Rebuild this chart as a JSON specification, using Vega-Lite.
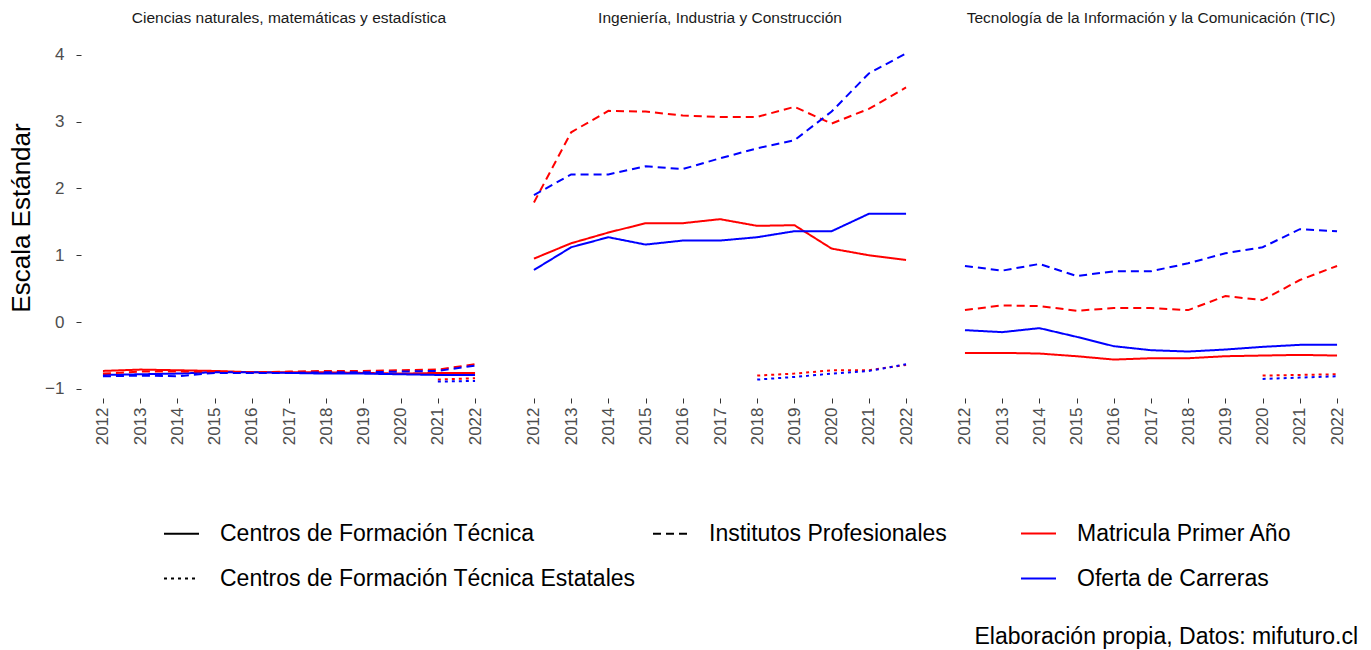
{
  "$schema": "https://vega.github.io/schema/vega-lite/v6.json",
  "background": "white",
  "padding": {"left": 8, "top": 11, "right": 13, "bottom": 5},
  "title": {"text": "Elaboración propia, Datos: mifuturo.cl", "orient": "bottom", "anchor": "end", "fontSize": 23, "fontWeight": "normal", "color": "black", "offset": 35, "dx": -1},
  "data": {"values": [
    {"area":"Ciencias naturales, matemáticas y estadística","tipo":"Centros de Formación Técnica","var":"Matricula Primer Año","year":2012,"value":-0.73},
    {"area":"Ciencias naturales, matemáticas y estadística","tipo":"Centros de Formación Técnica","var":"Matricula Primer Año","year":2013,"value":-0.71},
    {"area":"Ciencias naturales, matemáticas y estadística","tipo":"Centros de Formación Técnica","var":"Matricula Primer Año","year":2014,"value":-0.72},
    {"area":"Ciencias naturales, matemáticas y estadística","tipo":"Centros de Formación Técnica","var":"Matricula Primer Año","year":2015,"value":-0.73},
    {"area":"Ciencias naturales, matemáticas y estadística","tipo":"Centros de Formación Técnica","var":"Matricula Primer Año","year":2016,"value":-0.75},
    {"area":"Ciencias naturales, matemáticas y estadística","tipo":"Centros de Formación Técnica","var":"Matricula Primer Año","year":2017,"value":-0.75},
    {"area":"Ciencias naturales, matemáticas y estadística","tipo":"Centros de Formación Técnica","var":"Matricula Primer Año","year":2018,"value":-0.75},
    {"area":"Ciencias naturales, matemáticas y estadística","tipo":"Centros de Formación Técnica","var":"Matricula Primer Año","year":2019,"value":-0.76},
    {"area":"Ciencias naturales, matemáticas y estadística","tipo":"Centros de Formación Técnica","var":"Matricula Primer Año","year":2020,"value":-0.77},
    {"area":"Ciencias naturales, matemáticas y estadística","tipo":"Centros de Formación Técnica","var":"Matricula Primer Año","year":2021,"value":-0.76},
    {"area":"Ciencias naturales, matemáticas y estadística","tipo":"Centros de Formación Técnica","var":"Matricula Primer Año","year":2022,"value":-0.76},
    {"area":"Ciencias naturales, matemáticas y estadística","tipo":"Centros de Formación Técnica","var":"Oferta de Carreras","year":2012,"value":-0.79},
    {"area":"Ciencias naturales, matemáticas y estadística","tipo":"Centros de Formación Técnica","var":"Oferta de Carreras","year":2013,"value":-0.78},
    {"area":"Ciencias naturales, matemáticas y estadística","tipo":"Centros de Formación Técnica","var":"Oferta de Carreras","year":2014,"value":-0.77},
    {"area":"Ciencias naturales, matemáticas y estadística","tipo":"Centros de Formación Técnica","var":"Oferta de Carreras","year":2015,"value":-0.75},
    {"area":"Ciencias naturales, matemáticas y estadística","tipo":"Centros de Formación Técnica","var":"Oferta de Carreras","year":2016,"value":-0.75},
    {"area":"Ciencias naturales, matemáticas y estadística","tipo":"Centros de Formación Técnica","var":"Oferta de Carreras","year":2017,"value":-0.76},
    {"area":"Ciencias naturales, matemáticas y estadística","tipo":"Centros de Formación Técnica","var":"Oferta de Carreras","year":2018,"value":-0.77},
    {"area":"Ciencias naturales, matemáticas y estadística","tipo":"Centros de Formación Técnica","var":"Oferta de Carreras","year":2019,"value":-0.77},
    {"area":"Ciencias naturales, matemáticas y estadística","tipo":"Centros de Formación Técnica","var":"Oferta de Carreras","year":2020,"value":-0.78},
    {"area":"Ciencias naturales, matemáticas y estadística","tipo":"Centros de Formación Técnica","var":"Oferta de Carreras","year":2021,"value":-0.79},
    {"area":"Ciencias naturales, matemáticas y estadística","tipo":"Centros de Formación Técnica","var":"Oferta de Carreras","year":2022,"value":-0.79},
    {"area":"Ciencias naturales, matemáticas y estadística","tipo":"Institutos Profesionales","var":"Matricula Primer Año","year":2012,"value":-0.77},
    {"area":"Ciencias naturales, matemáticas y estadística","tipo":"Institutos Profesionales","var":"Matricula Primer Año","year":2013,"value":-0.74},
    {"area":"Ciencias naturales, matemáticas y estadística","tipo":"Institutos Profesionales","var":"Matricula Primer Año","year":2014,"value":-0.74},
    {"area":"Ciencias naturales, matemáticas y estadística","tipo":"Institutos Profesionales","var":"Matricula Primer Año","year":2015,"value":-0.74},
    {"area":"Ciencias naturales, matemáticas y estadística","tipo":"Institutos Profesionales","var":"Matricula Primer Año","year":2016,"value":-0.75},
    {"area":"Ciencias naturales, matemáticas y estadística","tipo":"Institutos Profesionales","var":"Matricula Primer Año","year":2017,"value":-0.74},
    {"area":"Ciencias naturales, matemáticas y estadística","tipo":"Institutos Profesionales","var":"Matricula Primer Año","year":2018,"value":-0.73},
    {"area":"Ciencias naturales, matemáticas y estadística","tipo":"Institutos Profesionales","var":"Matricula Primer Año","year":2019,"value":-0.73},
    {"area":"Ciencias naturales, matemáticas y estadística","tipo":"Institutos Profesionales","var":"Matricula Primer Año","year":2020,"value":-0.72},
    {"area":"Ciencias naturales, matemáticas y estadística","tipo":"Institutos Profesionales","var":"Matricula Primer Año","year":2021,"value":-0.71},
    {"area":"Ciencias naturales, matemáticas y estadística","tipo":"Institutos Profesionales","var":"Matricula Primer Año","year":2022,"value":-0.63},
    {"area":"Ciencias naturales, matemáticas y estadística","tipo":"Institutos Profesionales","var":"Oferta de Carreras","year":2012,"value":-0.81},
    {"area":"Ciencias naturales, matemáticas y estadística","tipo":"Institutos Profesionales","var":"Oferta de Carreras","year":2013,"value":-0.80},
    {"area":"Ciencias naturales, matemáticas y estadística","tipo":"Institutos Profesionales","var":"Oferta de Carreras","year":2014,"value":-0.81},
    {"area":"Ciencias naturales, matemáticas y estadística","tipo":"Institutos Profesionales","var":"Oferta de Carreras","year":2015,"value":-0.76},
    {"area":"Ciencias naturales, matemáticas y estadística","tipo":"Institutos Profesionales","var":"Oferta de Carreras","year":2016,"value":-0.76},
    {"area":"Ciencias naturales, matemáticas y estadística","tipo":"Institutos Profesionales","var":"Oferta de Carreras","year":2017,"value":-0.76},
    {"area":"Ciencias naturales, matemáticas y estadística","tipo":"Institutos Profesionales","var":"Oferta de Carreras","year":2018,"value":-0.75},
    {"area":"Ciencias naturales, matemáticas y estadística","tipo":"Institutos Profesionales","var":"Oferta de Carreras","year":2019,"value":-0.75},
    {"area":"Ciencias naturales, matemáticas y estadística","tipo":"Institutos Profesionales","var":"Oferta de Carreras","year":2020,"value":-0.74},
    {"area":"Ciencias naturales, matemáticas y estadística","tipo":"Institutos Profesionales","var":"Oferta de Carreras","year":2021,"value":-0.73},
    {"area":"Ciencias naturales, matemáticas y estadística","tipo":"Institutos Profesionales","var":"Oferta de Carreras","year":2022,"value":-0.65},
    {"area":"Ciencias naturales, matemáticas y estadística","tipo":"Centros de Formación Técnica Estatales","var":"Matricula Primer Año","year":2021,"value":-0.86},
    {"area":"Ciencias naturales, matemáticas y estadística","tipo":"Centros de Formación Técnica Estatales","var":"Matricula Primer Año","year":2022,"value":-0.84},
    {"area":"Ciencias naturales, matemáticas y estadística","tipo":"Centros de Formación Técnica Estatales","var":"Oferta de Carreras","year":2021,"value":-0.89},
    {"area":"Ciencias naturales, matemáticas y estadística","tipo":"Centros de Formación Técnica Estatales","var":"Oferta de Carreras","year":2022,"value":-0.88},

    {"area":"Ingeniería, Industria y Construcción","tipo":"Centros de Formación Técnica","var":"Matricula Primer Año","year":2012,"value":0.95},
    {"area":"Ingeniería, Industria y Construcción","tipo":"Centros de Formación Técnica","var":"Matricula Primer Año","year":2013,"value":1.18},
    {"area":"Ingeniería, Industria y Construcción","tipo":"Centros de Formación Técnica","var":"Matricula Primer Año","year":2014,"value":1.34},
    {"area":"Ingeniería, Industria y Construcción","tipo":"Centros de Formación Técnica","var":"Matricula Primer Año","year":2015,"value":1.48},
    {"area":"Ingeniería, Industria y Construcción","tipo":"Centros de Formación Técnica","var":"Matricula Primer Año","year":2016,"value":1.48},
    {"area":"Ingeniería, Industria y Construcción","tipo":"Centros de Formación Técnica","var":"Matricula Primer Año","year":2017,"value":1.54},
    {"area":"Ingeniería, Industria y Construcción","tipo":"Centros de Formación Técnica","var":"Matricula Primer Año","year":2018,"value":1.44},
    {"area":"Ingeniería, Industria y Construcción","tipo":"Centros de Formación Técnica","var":"Matricula Primer Año","year":2019,"value":1.45},
    {"area":"Ingeniería, Industria y Construcción","tipo":"Centros de Formación Técnica","var":"Matricula Primer Año","year":2020,"value":1.10},
    {"area":"Ingeniería, Industria y Construcción","tipo":"Centros de Formación Técnica","var":"Matricula Primer Año","year":2021,"value":1.00},
    {"area":"Ingeniería, Industria y Construcción","tipo":"Centros de Formación Técnica","var":"Matricula Primer Año","year":2022,"value":0.93},
    {"area":"Ingeniería, Industria y Construcción","tipo":"Centros de Formación Técnica","var":"Oferta de Carreras","year":2012,"value":0.78},
    {"area":"Ingeniería, Industria y Construcción","tipo":"Centros de Formación Técnica","var":"Oferta de Carreras","year":2013,"value":1.12},
    {"area":"Ingeniería, Industria y Construcción","tipo":"Centros de Formación Técnica","var":"Oferta de Carreras","year":2014,"value":1.27},
    {"area":"Ingeniería, Industria y Construcción","tipo":"Centros de Formación Técnica","var":"Oferta de Carreras","year":2015,"value":1.16},
    {"area":"Ingeniería, Industria y Construcción","tipo":"Centros de Formación Técnica","var":"Oferta de Carreras","year":2016,"value":1.22},
    {"area":"Ingeniería, Industria y Construcción","tipo":"Centros de Formación Técnica","var":"Oferta de Carreras","year":2017,"value":1.22},
    {"area":"Ingeniería, Industria y Construcción","tipo":"Centros de Formación Técnica","var":"Oferta de Carreras","year":2018,"value":1.27},
    {"area":"Ingeniería, Industria y Construcción","tipo":"Centros de Formación Técnica","var":"Oferta de Carreras","year":2019,"value":1.36},
    {"area":"Ingeniería, Industria y Construcción","tipo":"Centros de Formación Técnica","var":"Oferta de Carreras","year":2020,"value":1.36},
    {"area":"Ingeniería, Industria y Construcción","tipo":"Centros de Formación Técnica","var":"Oferta de Carreras","year":2021,"value":1.62},
    {"area":"Ingeniería, Industria y Construcción","tipo":"Centros de Formación Técnica","var":"Oferta de Carreras","year":2022,"value":1.62},
    {"area":"Ingeniería, Industria y Construcción","tipo":"Institutos Profesionales","var":"Matricula Primer Año","year":2012,"value":1.79},
    {"area":"Ingeniería, Industria y Construcción","tipo":"Institutos Profesionales","var":"Matricula Primer Año","year":2013,"value":2.84},
    {"area":"Ingeniería, Industria y Construcción","tipo":"Institutos Profesionales","var":"Matricula Primer Año","year":2014,"value":3.16},
    {"area":"Ingeniería, Industria y Construcción","tipo":"Institutos Profesionales","var":"Matricula Primer Año","year":2015,"value":3.15},
    {"area":"Ingeniería, Industria y Construcción","tipo":"Institutos Profesionales","var":"Matricula Primer Año","year":2016,"value":3.09},
    {"area":"Ingeniería, Industria y Construcción","tipo":"Institutos Profesionales","var":"Matricula Primer Año","year":2017,"value":3.07},
    {"area":"Ingeniería, Industria y Construcción","tipo":"Institutos Profesionales","var":"Matricula Primer Año","year":2018,"value":3.07},
    {"area":"Ingeniería, Industria y Construcción","tipo":"Institutos Profesionales","var":"Matricula Primer Año","year":2019,"value":3.22},
    {"area":"Ingeniería, Industria y Construcción","tipo":"Institutos Profesionales","var":"Matricula Primer Año","year":2020,"value":2.97},
    {"area":"Ingeniería, Industria y Construcción","tipo":"Institutos Profesionales","var":"Matricula Primer Año","year":2021,"value":3.19},
    {"area":"Ingeniería, Industria y Construcción","tipo":"Institutos Profesionales","var":"Matricula Primer Año","year":2022,"value":3.51},
    {"area":"Ingeniería, Industria y Construcción","tipo":"Institutos Profesionales","var":"Oferta de Carreras","year":2012,"value":1.90},
    {"area":"Ingeniería, Industria y Construcción","tipo":"Institutos Profesionales","var":"Oferta de Carreras","year":2013,"value":2.21},
    {"area":"Ingeniería, Industria y Construcción","tipo":"Institutos Profesionales","var":"Oferta de Carreras","year":2014,"value":2.21},
    {"area":"Ingeniería, Industria y Construcción","tipo":"Institutos Profesionales","var":"Oferta de Carreras","year":2015,"value":2.33},
    {"area":"Ingeniería, Industria y Construcción","tipo":"Institutos Profesionales","var":"Oferta de Carreras","year":2016,"value":2.29},
    {"area":"Ingeniería, Industria y Construcción","tipo":"Institutos Profesionales","var":"Oferta de Carreras","year":2017,"value":2.45},
    {"area":"Ingeniería, Industria y Construcción","tipo":"Institutos Profesionales","var":"Oferta de Carreras","year":2018,"value":2.60},
    {"area":"Ingeniería, Industria y Construcción","tipo":"Institutos Profesionales","var":"Oferta de Carreras","year":2019,"value":2.72},
    {"area":"Ingeniería, Industria y Construcción","tipo":"Institutos Profesionales","var":"Oferta de Carreras","year":2020,"value":3.15},
    {"area":"Ingeniería, Industria y Construcción","tipo":"Institutos Profesionales","var":"Oferta de Carreras","year":2021,"value":3.72},
    {"area":"Ingeniería, Industria y Construcción","tipo":"Institutos Profesionales","var":"Oferta de Carreras","year":2022,"value":4.02},
    {"area":"Ingeniería, Industria y Construcción","tipo":"Centros de Formación Técnica Estatales","var":"Matricula Primer Año","year":2018,"value":-0.80},
    {"area":"Ingeniería, Industria y Construcción","tipo":"Centros de Formación Técnica Estatales","var":"Matricula Primer Año","year":2019,"value":-0.77},
    {"area":"Ingeniería, Industria y Construcción","tipo":"Centros de Formación Técnica Estatales","var":"Matricula Primer Año","year":2020,"value":-0.72},
    {"area":"Ingeniería, Industria y Construcción","tipo":"Centros de Formación Técnica Estatales","var":"Matricula Primer Año","year":2021,"value":-0.72},
    {"area":"Ingeniería, Industria y Construcción","tipo":"Centros de Formación Técnica Estatales","var":"Matricula Primer Año","year":2022,"value":-0.64},
    {"area":"Ingeniería, Industria y Construcción","tipo":"Centros de Formación Técnica Estatales","var":"Oferta de Carreras","year":2018,"value":-0.86},
    {"area":"Ingeniería, Industria y Construcción","tipo":"Centros de Formación Técnica Estatales","var":"Oferta de Carreras","year":2019,"value":-0.82},
    {"area":"Ingeniería, Industria y Construcción","tipo":"Centros de Formación Técnica Estatales","var":"Oferta de Carreras","year":2020,"value":-0.77},
    {"area":"Ingeniería, Industria y Construcción","tipo":"Centros de Formación Técnica Estatales","var":"Oferta de Carreras","year":2021,"value":-0.73},
    {"area":"Ingeniería, Industria y Construcción","tipo":"Centros de Formación Técnica Estatales","var":"Oferta de Carreras","year":2022,"value":-0.63},

    {"area":"Tecnología de la Información y la Comunicación (TIC)","tipo":"Centros de Formación Técnica","var":"Matricula Primer Año","year":2012,"value":-0.46},
    {"area":"Tecnología de la Información y la Comunicación (TIC)","tipo":"Centros de Formación Técnica","var":"Matricula Primer Año","year":2013,"value":-0.46},
    {"area":"Tecnología de la Información y la Comunicación (TIC)","tipo":"Centros de Formación Técnica","var":"Matricula Primer Año","year":2014,"value":-0.47},
    {"area":"Tecnología de la Información y la Comunicación (TIC)","tipo":"Centros de Formación Técnica","var":"Matricula Primer Año","year":2015,"value":-0.51},
    {"area":"Tecnología de la Información y la Comunicación (TIC)","tipo":"Centros de Formación Técnica","var":"Matricula Primer Año","year":2016,"value":-0.56},
    {"area":"Tecnología de la Información y la Comunicación (TIC)","tipo":"Centros de Formación Técnica","var":"Matricula Primer Año","year":2017,"value":-0.54},
    {"area":"Tecnología de la Información y la Comunicación (TIC)","tipo":"Centros de Formación Técnica","var":"Matricula Primer Año","year":2018,"value":-0.54},
    {"area":"Tecnología de la Información y la Comunicación (TIC)","tipo":"Centros de Formación Técnica","var":"Matricula Primer Año","year":2019,"value":-0.51},
    {"area":"Tecnología de la Información y la Comunicación (TIC)","tipo":"Centros de Formación Técnica","var":"Matricula Primer Año","year":2020,"value":-0.50},
    {"area":"Tecnología de la Información y la Comunicación (TIC)","tipo":"Centros de Formación Técnica","var":"Matricula Primer Año","year":2021,"value":-0.49},
    {"area":"Tecnología de la Información y la Comunicación (TIC)","tipo":"Centros de Formación Técnica","var":"Matricula Primer Año","year":2022,"value":-0.50},
    {"area":"Tecnología de la Información y la Comunicación (TIC)","tipo":"Centros de Formación Técnica","var":"Oferta de Carreras","year":2012,"value":-0.12},
    {"area":"Tecnología de la Información y la Comunicación (TIC)","tipo":"Centros de Formación Técnica","var":"Oferta de Carreras","year":2013,"value":-0.15},
    {"area":"Tecnología de la Información y la Comunicación (TIC)","tipo":"Centros de Formación Técnica","var":"Oferta de Carreras","year":2014,"value":-0.09},
    {"area":"Tecnología de la Información y la Comunicación (TIC)","tipo":"Centros de Formación Técnica","var":"Oferta de Carreras","year":2015,"value":-0.22},
    {"area":"Tecnología de la Información y la Comunicación (TIC)","tipo":"Centros de Formación Técnica","var":"Oferta de Carreras","year":2016,"value":-0.36},
    {"area":"Tecnología de la Información y la Comunicación (TIC)","tipo":"Centros de Formación Técnica","var":"Oferta de Carreras","year":2017,"value":-0.42},
    {"area":"Tecnología de la Información y la Comunicación (TIC)","tipo":"Centros de Formación Técnica","var":"Oferta de Carreras","year":2018,"value":-0.44},
    {"area":"Tecnología de la Información y la Comunicación (TIC)","tipo":"Centros de Formación Técnica","var":"Oferta de Carreras","year":2019,"value":-0.41},
    {"area":"Tecnología de la Información y la Comunicación (TIC)","tipo":"Centros de Formación Técnica","var":"Oferta de Carreras","year":2020,"value":-0.37},
    {"area":"Tecnología de la Información y la Comunicación (TIC)","tipo":"Centros de Formación Técnica","var":"Oferta de Carreras","year":2021,"value":-0.34},
    {"area":"Tecnología de la Información y la Comunicación (TIC)","tipo":"Centros de Formación Técnica","var":"Oferta de Carreras","year":2022,"value":-0.34},
    {"area":"Tecnología de la Información y la Comunicación (TIC)","tipo":"Institutos Profesionales","var":"Matricula Primer Año","year":2012,"value":0.18},
    {"area":"Tecnología de la Información y la Comunicación (TIC)","tipo":"Institutos Profesionales","var":"Matricula Primer Año","year":2013,"value":0.25},
    {"area":"Tecnología de la Información y la Comunicación (TIC)","tipo":"Institutos Profesionales","var":"Matricula Primer Año","year":2014,"value":0.24},
    {"area":"Tecnología de la Información y la Comunicación (TIC)","tipo":"Institutos Profesionales","var":"Matricula Primer Año","year":2015,"value":0.17},
    {"area":"Tecnología de la Información y la Comunicación (TIC)","tipo":"Institutos Profesionales","var":"Matricula Primer Año","year":2016,"value":0.21},
    {"area":"Tecnología de la Información y la Comunicación (TIC)","tipo":"Institutos Profesionales","var":"Matricula Primer Año","year":2017,"value":0.21},
    {"area":"Tecnología de la Información y la Comunicación (TIC)","tipo":"Institutos Profesionales","var":"Matricula Primer Año","year":2018,"value":0.18},
    {"area":"Tecnología de la Información y la Comunicación (TIC)","tipo":"Institutos Profesionales","var":"Matricula Primer Año","year":2019,"value":0.39},
    {"area":"Tecnología de la Información y la Comunicación (TIC)","tipo":"Institutos Profesionales","var":"Matricula Primer Año","year":2020,"value":0.33},
    {"area":"Tecnología de la Información y la Comunicación (TIC)","tipo":"Institutos Profesionales","var":"Matricula Primer Año","year":2021,"value":0.63},
    {"area":"Tecnología de la Información y la Comunicación (TIC)","tipo":"Institutos Profesionales","var":"Matricula Primer Año","year":2022,"value":0.84},
    {"area":"Tecnología de la Información y la Comunicación (TIC)","tipo":"Institutos Profesionales","var":"Oferta de Carreras","year":2012,"value":0.84},
    {"area":"Tecnología de la Información y la Comunicación (TIC)","tipo":"Institutos Profesionales","var":"Oferta de Carreras","year":2013,"value":0.77},
    {"area":"Tecnología de la Información y la Comunicación (TIC)","tipo":"Institutos Profesionales","var":"Oferta de Carreras","year":2014,"value":0.87},
    {"area":"Tecnología de la Información y la Comunicación (TIC)","tipo":"Institutos Profesionales","var":"Oferta de Carreras","year":2015,"value":0.69},
    {"area":"Tecnología de la Información y la Comunicación (TIC)","tipo":"Institutos Profesionales","var":"Oferta de Carreras","year":2016,"value":0.76},
    {"area":"Tecnología de la Información y la Comunicación (TIC)","tipo":"Institutos Profesionales","var":"Oferta de Carreras","year":2017,"value":0.76},
    {"area":"Tecnología de la Información y la Comunicación (TIC)","tipo":"Institutos Profesionales","var":"Oferta de Carreras","year":2018,"value":0.88},
    {"area":"Tecnología de la Información y la Comunicación (TIC)","tipo":"Institutos Profesionales","var":"Oferta de Carreras","year":2019,"value":1.03},
    {"area":"Tecnología de la Información y la Comunicación (TIC)","tipo":"Institutos Profesionales","var":"Oferta de Carreras","year":2020,"value":1.12},
    {"area":"Tecnología de la Información y la Comunicación (TIC)","tipo":"Institutos Profesionales","var":"Oferta de Carreras","year":2021,"value":1.39},
    {"area":"Tecnología de la Información y la Comunicación (TIC)","tipo":"Institutos Profesionales","var":"Oferta de Carreras","year":2022,"value":1.36},
    {"area":"Tecnología de la Información y la Comunicación (TIC)","tipo":"Centros de Formación Técnica Estatales","var":"Matricula Primer Año","year":2020,"value":-0.80},
    {"area":"Tecnología de la Información y la Comunicación (TIC)","tipo":"Centros de Formación Técnica Estatales","var":"Matricula Primer Año","year":2021,"value":-0.79},
    {"area":"Tecnología de la Información y la Comunicación (TIC)","tipo":"Centros de Formación Técnica Estatales","var":"Matricula Primer Año","year":2022,"value":-0.78},
    {"area":"Tecnología de la Información y la Comunicación (TIC)","tipo":"Centros de Formación Técnica Estatales","var":"Oferta de Carreras","year":2020,"value":-0.85},
    {"area":"Tecnología de la Información y la Comunicación (TIC)","tipo":"Centros de Formación Técnica Estatales","var":"Oferta de Carreras","year":2021,"value":-0.83},
    {"area":"Tecnología de la Información y la Comunicación (TIC)","tipo":"Centros de Formación Técnica Estatales","var":"Oferta de Carreras","year":2022,"value":-0.81}
  ]},
  "facet": {
    "column": {
      "field": "area", "type": "nominal", "title": null,
      "sort": ["Ciencias naturales, matemáticas y estadística", "Ingeniería, Industria y Construcción", "Tecnología de la Información y la Comunicación (TIC)"],
      "header": {"labelFontSize": 15.5, "labelColor": "#1a1a1a", "labelPadding": 10.5}
    }
  },
  "spacing": 15,
  "spec": {
    "width": 416,
    "height": 361,
    "mark": {"type": "line", "strokeWidth": 2},
    "encoding": {
      "x": {
        "field": "year", "type": "ordinal",
        "scale": {"type": "point", "padding": 0.59},
        "axis": {"title": null, "labelAngle": -90, "labelAlign": "right", "labelBaseline": "middle", "labelFontSize": 17, "labelColor": "#4d4d4d", "labelPadding": 4, "tickSize": 5, "tickColor": "#333333", "domain": false}
      },
      "y": {
        "field": "value", "type": "quantitative",
        "scale": {"domain": [-1.135, 4.265], "nice": false, "zero": false},
        "axis": {"title": "Escala Estándar", "values": [-1, 0, 1, 2, 3, 4], "format": "d", "titleFontSize": 26, "titleFontWeight": "normal", "titleColor": "black", "titlePadding": 10, "labelFontSize": 17, "labelColor": "#4d4d4d", "labelPadding": 12, "tickSize": 5, "tickColor": "#333333", "domain": false}
      },
      "color": {
        "field": "var", "type": "nominal",
        "scale": {"domain": ["Matricula Primer Año", "Oferta de Carreras"], "range": ["#FF0000", "#0000FF"]},
        "legend": {"orient": "none", "legendX": 939, "legendY": 478, "title": null, "symbolType": "stroke", "symbolSize": 1225, "symbolStrokeWidth": 2, "labelFontSize": 23, "labelColor": "black", "labelOffset": 20, "labelLimit": 0, "rowPadding": 14}
      },
      "strokeDash": {
        "field": "tipo", "type": "nominal",
        "scale": {"domain": ["Centros de Formación Técnica", "Centros de Formación Técnica Estatales", "Institutos Profesionales"], "range": [[1, 0], [3, 4], [8, 5]]},
        "legend": {"orient": "none", "legendX": 82, "legendY": 478, "columns": 2, "columnPadding": 13, "title": null, "symbolType": "stroke", "symbolSize": 1225, "symbolStrokeWidth": 2, "symbolStrokeColor": "black", "labelFontSize": 23, "labelColor": "black", "labelOffset": 20, "labelLimit": 0, "rowPadding": 14}
      }
    }
  },
  "config": {
    "font": "Liberation Sans",
    "view": {"stroke": null},
    "axis": {"grid": false}
  }
}
